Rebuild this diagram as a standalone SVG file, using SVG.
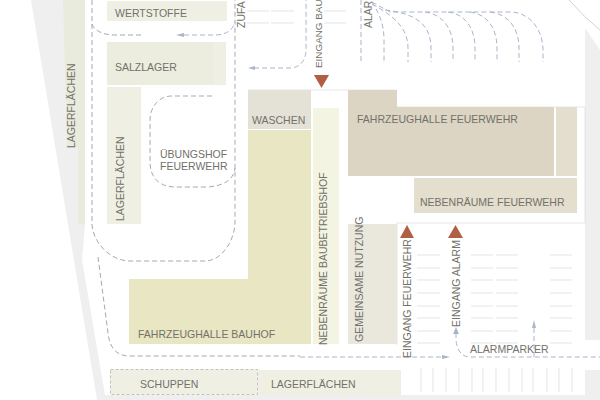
<svg xmlns="http://www.w3.org/2000/svg" width="600" height="400" viewBox="0 0 600 400">
<style>
text{font-family:"Liberation Sans",Arial,sans-serif;font-size:10.5px;fill:#72716a}
.d{fill:none;stroke:#a5a9b5;stroke-width:1;stroke-dasharray:5 3}
.b{fill:none;stroke:#aab5c9;stroke-width:1;stroke-dasharray:5 3}
.p{stroke:#d5d8dc;stroke-width:.7;fill:none}
.g{fill:#eff0e3}
.t{fill:#b05f45}
.a{fill:#a9b5c9}
</style>
<rect width="600" height="400" fill="#fff"/>
<g id="ground">
<polygon points="31,0 85,0 85,225 82,260 105,395 600,395 600,400 97,400" fill="#efefef"/>
<polygon points="585,28 600,50 600,340 585,340" fill="#efefef"/>
<rect x="585" y="370" width="15" height="30" fill="#efefef"/>
<polygon points="63,0 85,0 85,148 67,148" fill="#e9ebdc"/>
<rect x="78" y="148" width="7" height="76" fill="#e9ebdc"/>
<path d="M569 0Q585 18 600 30" fill="none" stroke="#c4c6c8" stroke-width=".8"/>
</g>
<g id="parking">
<path class="p" d="M247 11H269M271 11H294M247 23H269M271 23H294M324 11H346M324 23H346"/>
<path class="p" d="M417 255H440M417 268H440M417 280H440M417 293H440M417 306H440M417 318H440M417 331H440M417 343H440"/>
<path class="p" d="M471 255H493M496 255H518M471 268H493M496 268H518M471 280H493M496 280H518M471 293H493M496 293H518M471 306H493M496 306H518M471 318H493M496 318H518M471 331H493M496 331H518M471 343H493M496 343H518"/>
<path class="p" d="M550 255H572M550 268H572M550 280H572M550 293H572M550 306H572M550 318H572M550 331H572M550 343H572"/>
<path class="p" d="M421 368V392M433 368V392M446 368V392M459 368V392M472 368V392M483 368V392M496 368V392M509 368V392M522 368V392M533 368V392M547 368V392M559 368V392M572 368V392"/>
<path d="M248 90H396V107H585V223H397V345" fill="none" stroke="#dcdcdc" stroke-width=".7"/>
</g>
<g id="connectors">
<path class="d" d="M92 0V225C94 245 112 261 130 261H205C222 261 235 240 235 222V0"/>
<path class="d" d="M92 24C94 30 102 35 115 35H142"/>
<path class="b" d="M184 35H215C226 35 233 30 235 22"/>
<polygon class="a" points="176,35 184,33 184,37"/>
<path class="d" d="M212 96H172C158 96 150 108 150 120V162C150 178 160 187 175 187H205C222 187 234 180 235 168"/>
<path class="b" d="M254 68H290C300 68 306 60 306 50V0"/>
<polygon class="a" points="248,68 255,66 255,70"/>
<path class="d" d="M98 257L108 333C110 350 118 356 130 356H300"/>
<path class="b" d="M300 357H441"/>
<polygon class="a" points="450,357 442,355 442,359"/>
<path class="b" d="M456 333V338C456 350 462 357 470 357H600"/>
<polygon class="a" points="456,327 453,334 459,334"/>
<path class="b" d="M534 328V357"/>
<polygon class="a" points="534,320 532,328 536,328"/>
<path class="b" d="M361 0V62"/>
<path class="b" d="M372 2C378 12 384 22 384 40V62"/>
<path class="b" d="M372 4C394 16 408 28 408 48V62"/>
<path class="b" d="M385 10C412 13 431 22 431 48V62"/>
<path class="b" d="M372 2L390 12H510C530 12 543 30 543 50V62"/>
<path class="b" d="M425 12C442 14 453 28 453 48V62"/>
<path class="b" d="M448 12C465 14 475 28 475 48V62"/>
<path class="b" d="M470 12C487 14 497 28 497 48V62"/>
<path class="b" d="M490 12C508 14 519 28 519 48V62"/>
</g>
<g id="wertstoffe"><rect class="g" x="107" y="1" width="120" height="20"/><text x="115" y="17">WERTSTOFFE</text></g>
<g id="salzlager"><rect class="g" x="107" y="42" width="119" height="43"/><rect x="107" y="42" width="106" height="43" fill="#ecedde"/><text x="115" y="71">SALZLAGER</text></g>
<g id="lagerflaechen2"><rect class="g" x="107" y="87" width="34" height="137"/><text transform="translate(124 221) rotate(-90)">LAGERFLÄCHEN</text></g>
<g id="lagerflaechen1"><text transform="translate(75 148) rotate(-90)">LAGERFLÄCHEN</text></g>
<g id="uebungshof"><text x="160" y="158">ÜBUNGSHOF</text><text x="160" y="170">FEUERWEHR</text></g>
<g id="fahrzeughalle-bauhof"><polygon points="248,130 311,130 311,344 129,344 129,279 248,279" fill="#e9e6c3"/><text x="138" y="338">FAHRZEUGHALLE BAUHOF</text></g>
<g id="waschen"><rect x="248" y="90" width="63" height="39" fill="#e4e1d6"/><text x="252" y="124">WASCHEN</text></g>
<g id="nebenraeume-baubetriebshof"><rect x="313" y="108" width="26" height="236" fill="#f4f4e3"/><text transform="translate(327 345) rotate(-90)">NEBENRÄUME BAUBETRIEBSHOF</text></g>
<g id="fahrzeughalle-feuerwehr"><polygon points="348,90 397,90 397,107 554,107 554,176 348,176" fill="#dcd5c4"/><rect x="556" y="107" width="21" height="69" fill="#e3dece"/><text x="357" y="123">FAHRZEUGHALLE FEUERWEHR</text></g>
<g id="nebenraeume-feuerwehr"><rect x="414" y="178" width="163" height="35" fill="#e3dece"/><text x="420" y="206">NEBENRÄUME FEUERWEHR</text></g>
<g id="gemeinsame-nutzung"><rect x="348" y="224" width="49" height="120" fill="#eae8dd"/><text transform="translate(363 342) rotate(-90)">GEMEINSAME NUTZUNG</text></g>
<g id="schuppen"><rect class="g" x="110.500" y="369.500" width="147" height="25" stroke="#b5b5ae" stroke-dasharray="3 2" stroke-width=".8"/><text x="140" y="388">SCHUPPEN</text></g>
<g id="lagerflaechen3"><rect class="g" x="258" y="370" width="143" height="25"/><text x="271" y="388">LAGERFLÄCHEN</text></g>
<g id="entrances">
<polygon class="t" points="314,75 329,75 321.500,88"/>
<polygon class="t" points="400,238 414,238 407,225"/>
<polygon class="t" points="448,238 463,238 455.500,225"/>
<text transform="translate(322 68) rotate(-90)" font-size="9.900" style="font-size:9.900px">EINGANG BAU</text>
<text transform="translate(410.500 358) rotate(-90)">EINGANG FEUERWEHR</text>
<text transform="translate(459.500 327) rotate(-90)">EINGANG ALARM</text>
<text transform="translate(245 28) rotate(-90)">ZUFA</text>
<text transform="translate(372 28) rotate(-90)">ALAR</text>
<text x="470" y="353">ALARMPARKER</text>
</g>
</svg>
